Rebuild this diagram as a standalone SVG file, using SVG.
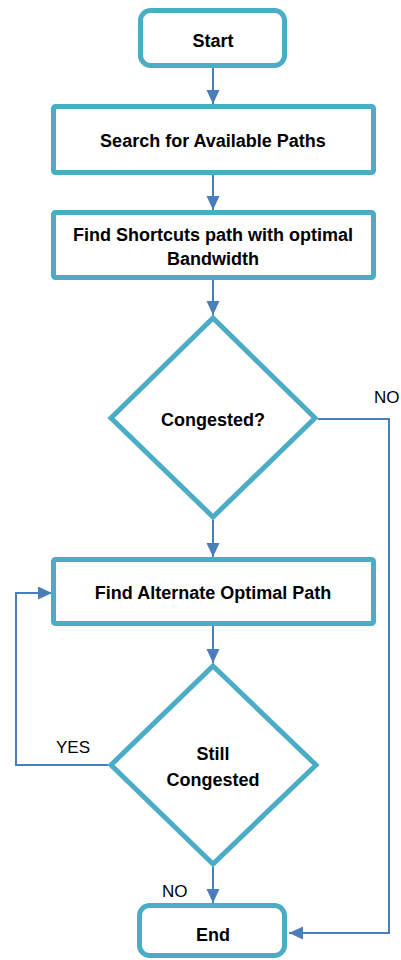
<svg xmlns="http://www.w3.org/2000/svg" width="401" height="960" viewBox="0 0 401 960">
<defs>
<style>
.box{fill:#fff;stroke:#4bacc6;stroke-width:5}
.t{font-family:"Liberation Sans",Arial,sans-serif;font-weight:bold;font-size:18px;fill:#000;text-anchor:middle}
.lbl{font-family:"Liberation Sans",Arial,sans-serif;font-size:17px;fill:#000}
.c{fill:none;stroke:#4a7ebb;stroke-width:2}
</style>
<marker id="ah" markerUnits="userSpaceOnUse" markerWidth="15" markerHeight="14" refX="14" refY="6.5" orient="auto">
<path d="M0,0 L14,6.5 L0,13 Z" fill="#4a7ebb"/>
</marker>
</defs>
<rect width="401" height="960" fill="#fff"/>
<g id="connectors">
<line class="c" x1="213" y1="68" x2="213" y2="104" marker-end="url(#ah)"/>
<line class="c" x1="213" y1="175" x2="213" y2="210" marker-end="url(#ah)"/>
<line class="c" x1="213" y1="280" x2="213" y2="315" marker-end="url(#ah)"/>
<line class="c" x1="213" y1="520" x2="213" y2="557" marker-end="url(#ah)"/>
<line class="c" x1="213" y1="626" x2="213" y2="663" marker-end="url(#ah)"/>
<line class="c" x1="213" y1="867" x2="213" y2="903" marker-end="url(#ah)"/>
<polyline class="c" points="318,419 389,419 389,933 289,933" marker-end="url(#ah)"/>
<polyline class="c" points="108,765 16,765 16,593 52,593" marker-end="url(#ah)"/>
<text class="lbl" x="374" y="403">NO</text>
<text class="lbl" x="56" y="753">YES</text>
<text class="lbl" x="162" y="897">NO</text>
</g>
<g id="start">
<rect class="box" x="140.5" y="10.5" width="144" height="55" rx="10"/>
<text class="t" x="213" y="47">Start</text>
</g>
<g id="search">
<rect class="box" x="53.5" y="106.5" width="320" height="66" rx="2"/>
<text class="t" x="213" y="147">Search for Available Paths</text>
</g>
<g id="shortcuts">
<rect class="box" x="53.5" y="212.5" width="320" height="65" rx="2"/>
<text class="t" x="213" y="241">Find Shortcuts path with optimal</text>
<text class="t" x="213" y="265">Bandwidth</text>
</g>
<g id="congested">
<polygon class="box" points="213,318 315,418 213,517 111,418"/>
<text class="t" x="213" y="426">Congested?</text>
</g>
<g id="alternate">
<rect class="box" x="53.5" y="559.5" width="320" height="64" rx="2"/>
<text class="t" x="213" y="599">Find Alternate Optimal Path</text>
</g>
<g id="still">
<polygon class="box" points="213,666 316,765 213,864 111,765"/>
<text class="t" x="213" y="760">Still</text>
<text class="t" x="213" y="786">Congested</text>
</g>
<g id="end">
<rect class="box" x="139.5" y="905.5" width="145" height="50" rx="10"/>
<text class="t" x="213" y="941">End</text>
</g>
</svg>
